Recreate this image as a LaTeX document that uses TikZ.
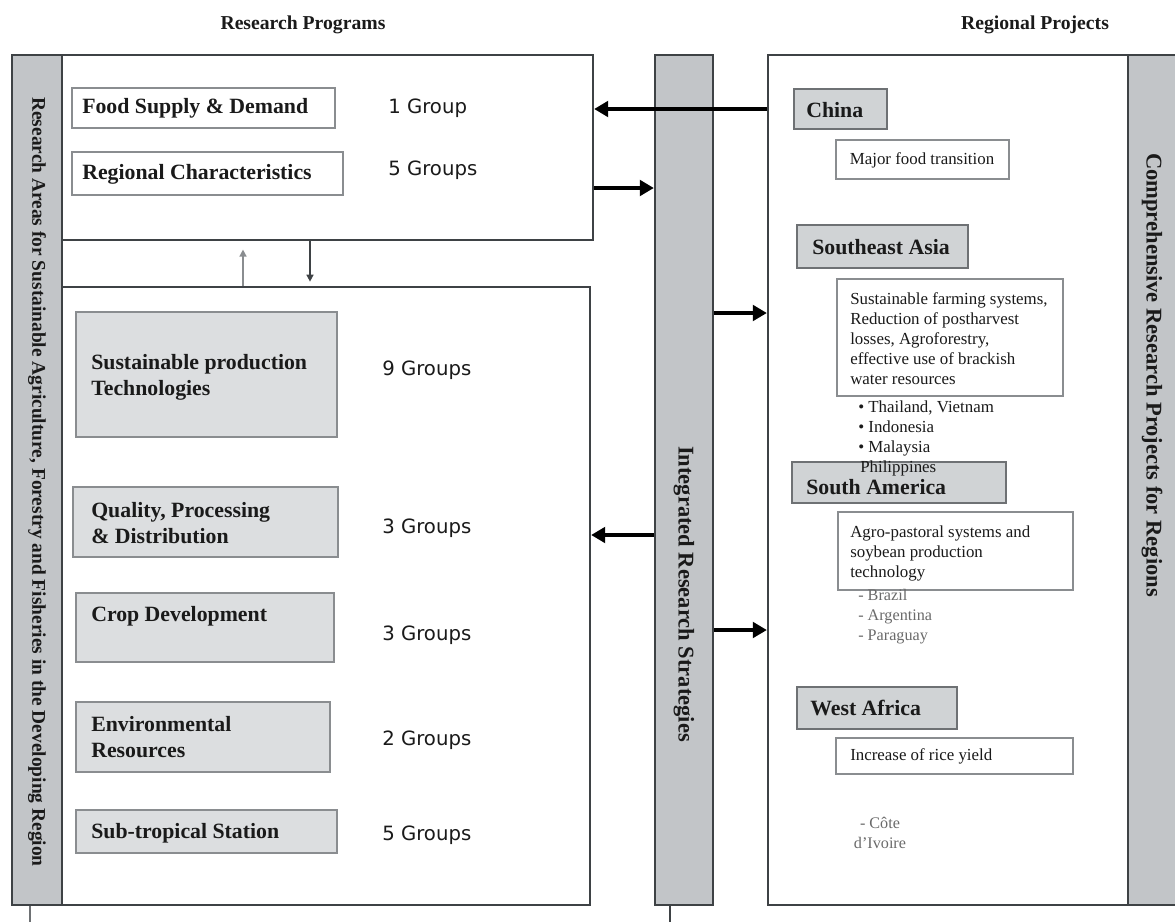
\documentclass[tikz,border=0pt]{standalone}
\usepackage{fontspec}
\setmainfont{Liberation Serif}
\newfontfamily\grpfont{DejaVu Sans}
\usetikzlibrary{arrows.meta,fit}
\definecolor{barfill}{HTML}{C2C5C8}
\definecolor{edgedark}{HTML}{3E4245}
\definecolor{edgemid}{HTML}{6E7174}
\definecolor{boxfill}{HTML}{DCDEE0}
\definecolor{boxedge}{HTML}{8A8D90}
\definecolor{regfill}{HTML}{D0D3D5}
\definecolor{txtgray}{HTML}{6A6A6A}
\definecolor{txtdark}{HTML}{1A1A1A}
\begin{document}
\begin{tikzpicture}[x=0.025cm,y=-0.025cm,
  bar/.style={draw=edgedark, fill=barfill, line width=1.6pt, inner sep=0pt},
  panel/.style={draw=edgedark, fill=white, line width=1.6pt, inner sep=0pt},
  pbox/.style={draw=boxedge, fill=boxfill, line width=1.8pt, inner sep=0pt},
  wbox/.style={draw=boxedge, fill=white, line width=1.8pt, inner sep=0pt},
  rbox/.style={draw=edgemid, fill=regfill, line width=1.6pt, inner sep=0pt},
  dbox/.style={draw=boxedge, fill=white, line width=1.2pt, inner sep=0pt},
  title/.style={font=\fontsize{14}{17}\selectfont\bfseries, text=txtdark, inner sep=0pt},
  lbl/.style={font=\fontsize{15.5}{18.5}\selectfont\bfseries, text=txtdark, align=left, anchor=west, inner sep=0pt},
  grp/.style={font=\grpfont\fontsize{14}{16}\selectfont, text=txtdark, anchor=west, inner sep=0pt},
  desc/.style={font=\fontsize{12}{14.2}\selectfont, text=txtdark, align=left, anchor=west, inner sep=0pt},
  subl/.style={font=\fontsize{11.5}{14.2}\selectfont, text=txtgray, align=left, anchor=west, inner sep=0pt},
  vlabel/.style={text=txtdark, rotate=-90, inner sep=0pt},
  bigarrow/.style={line width=2.6pt, draw=black, -{Triangle[length=10pt,width=11pt]}},
  thinarrow/.style={line width=1pt, -{Triangle[length=5pt,width=5pt]}},
]
\useasboundingbox (0,0) rectangle (1175,922);

% titles
\node[title] (t1) at (303,25) {Research Programs};
\node[title] (t2) at (1035,25) {Regional Projects};

% panels and bars
\node[panel, fit={(62,55) (593,240)}] (tbox) {};
\node[panel, fit={(62,287) (590,905)}] (bbox) {};
\node[bar, fit={(12,55) (62,905)}] (lbar) {};
\node[bar, fit={(655,55) (713,905)}] (cbar) {};
\node[panel, fit={(768,55) (1128,905)}] (rpanel) {};
\node[bar, fit={(1128,55) (1176,905)}] (rbar) {};

% vertical labels
\node[vlabel, font=\fontsize{13.8}{16}\selectfont\bfseries] (vl) at (37,482)
  {Research Areas for Sustainable Agriculture, Forestry and Fisheries in the Developing Region};
\node[vlabel, font=\fontsize{16}{18}\selectfont\bfseries] (vc) at (684,594)
  {Integrated Research Strategies};
\node[vlabel, font=\fontsize{16}{18}\selectfont\bfseries] (vr) at (1152,375)
  {Comprehensive Research Projects for Regions};

% top box contents
\node[wbox, fit={(72,88) (335,128)}] (food) {};
\node[lbl] (foodt) at (82,108) {Food Supply \& Demand};
\node[grp] (foodg) at (388,108) {1 Group};
\node[wbox, fit={(72,152) (343,195)}] (reg) {};
\node[lbl] (regt) at (82,174) {Regional Characteristics};
\node[grp] (regg) at (388,170) {5 Groups};

% bottom box contents
\node[pbox, fit={(76,312) (337,437)}] (sus) {};
\node[lbl] (sust) at (91,377) {Sustainable production\\Technologies};
\node[grp] (susg) at (382,370) {9 Groups};
\node[pbox, fit={(73,487) (338,557)}] (qual) {};
\node[lbl] (qualt) at (91,523) {Quality, Processing\\\& Distribution};
\node[grp] (qualg) at (382,528) {3 Groups};
\node[pbox, fit={(76,593) (334,662)}] (crop) {};
\node[lbl] (cropt) at (91,616) {Crop Development};
\node[grp] (cropg) at (382,635) {3 Groups};
\node[pbox, fit={(76,702) (330,772)}] (env) {};
\node[lbl] (envt) at (91,737) {Environmental\\Resources};
\node[grp] (envg) at (382,740) {2 Groups};
\node[pbox, fit={(76,810) (337,853)}] (subt) {};
\node[lbl] (subtt) at (91,833) {Sub-tropical Station};
\node[grp] (subtg) at (382,835) {5 Groups};

% right panel contents
\node[rbox, fit={(794,89) (887,129)}] (china) {};
\node[lbl] (chinat) at (806,110) {China};
\node[dbox, fit={(836,140) (1009,179)}] (chinad) {};
\node[desc, anchor=center] (chinadt) at (922,160) {Major food transition};

\node[rbox, fit={(797,225) (968,268)}] (sea) {};
\node[lbl] (seat) at (812,247) {Southeast Asia};
\node[dbox, fit={(837,279) (1063,396)}] (sead) {};
\node[desc] (seadt) at (850,339) {Sustainable farming systems,\\Reduction of postharvest\\losses, Agroforestry,\\effective use of brackish\\water resources};
\node[desc] (seal) at (858,428) {\textbullet\ Thailand, Vietnam\\\textbullet\ Indonesia\\\textbullet\ Malaysia};

\node[rbox, fit={(792,462) (1006,503)}] (sam) {};
\node[desc] (phil) at (860,468) {Philippines};
\node[lbl] (samt) at (806,487) {South America};
\node[dbox, fit={(838,512) (1073,590)}] (samd) {};
\node[desc] (samdt) at (850,553) {Agro-pastoral systems and\\soybean production\\technology};
\node[subl] (saml) at (858,617) {- Brazil\\- Argentina\\- Paraguay};

\node[rbox, fit={(797,687) (957,729)}] (waf) {};
\node[lbl] (waft) at (810,708) {West Africa};
\node[dbox, fit={(836,738) (1073,774)}] (wafd) {};
\node[desc] (wafdt) at (850,756) {Increase of rice yield};
\node[subl, align=center, anchor=center] (wafl) at (880,833) {- Côte\\d'Ivoire};

% connectors
\coordinate (a2) at (600,188);
\coordinate (a3) at (720,313);
\coordinate (a4) at (600,535);
\coordinate (a5) at (720,630);
\coordinate (u1) at (243,260);
\coordinate (u2) at (310,260);
\coordinate (tk1) at (30,922);
\coordinate (tk2) at (670,922);

\draw[bigarrow] (rpanel.west |- china.center) -- (tbox.east |- china.center);
\draw[bigarrow] (tbox.east |- a2) -- (cbar.west |- a2);
\draw[bigarrow] (cbar.east |- a3) -- (rpanel.west |- a3);
\draw[bigarrow] (cbar.west |- a4) -- (bbox.east |- a4);
\draw[bigarrow] (cbar.east |- a5) -- (rpanel.west |- a5);
\draw[thinarrow, draw=boxedge] (bbox.north -| u1) -- ([yshift=-6pt]tbox.south -| u1);
\draw[thinarrow, draw=edgedark] (tbox.south -| u2) -- ([yshift=3pt]bbox.north -| u2);
\draw[edgemid, line width=1.2pt] (lbar.south -| tk1) -- (tk1);
\draw[edgedark, line width=1.2pt] (cbar.south -| tk2) -- (tk2);
\end{tikzpicture}
\end{document}
